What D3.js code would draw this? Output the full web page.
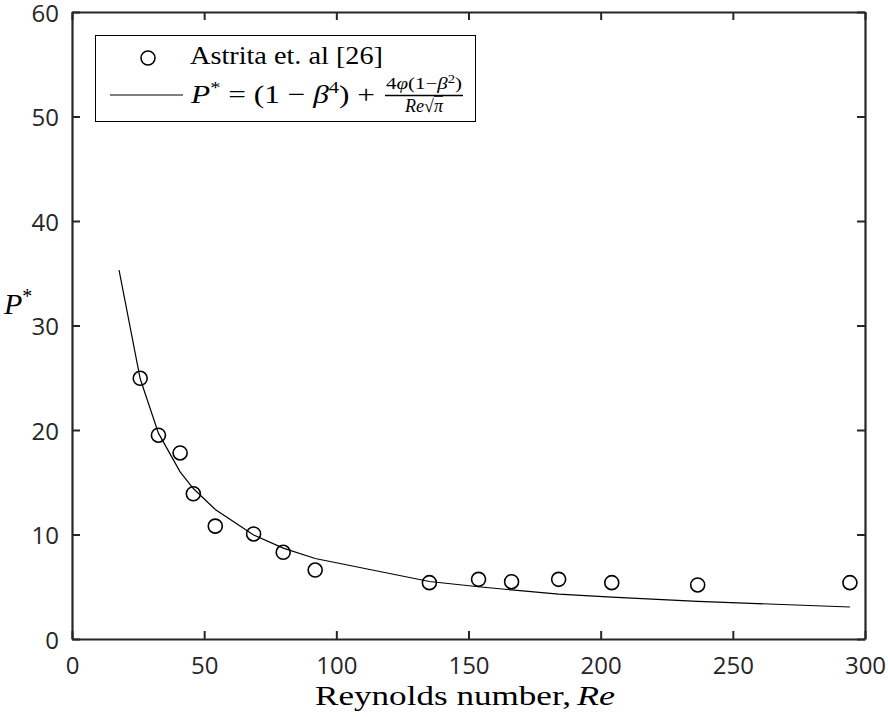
<!DOCTYPE html>
<html>
<head>
<meta charset="utf-8">
<script src="https://cdn.jsdelivr.net/npm/d3@7"></script>
<style>
  html, body { margin: 0; padding: 0; background: #fff; }
  svg { display: block; }
</style>
</head>
<body>
<svg id="chart" width="888" height="717"></svg>
<script>
// Experimental points (Astrita et al.)
const expRe = [25.8, 32.7, 40.9, 45.9, 54.2, 68.7, 79.9, 92.0, 135.2, 153.8, 166.3, 184.1, 204.2, 236.7, 294.3];
const expP  = [24.95, 19.5, 17.8, 13.9, 10.8, 10.05, 8.3, 6.6, 5.39, 5.71, 5.48, 5.71, 5.39, 5.17, 5.39];

// Model curve P* vs Re
const modelRe = [17.8, 25.8, 32.7, 40.9, 45.9, 54.2, 68.7, 79.9, 92.0, 135.2, 153.8, 166.3, 184.1, 204.2, 236.7, 294.3];
const modelP  = [35.3, 24.9, 19.7, 16.0, 14.4, 12.4, 9.95, 8.7, 7.7, 5.5, 5.0, 4.7, 4.3, 4.0, 3.6, 3.06];

// Axis ticks
const xTicks = [0, 50, 100, 150, 200, 250, 300];
const yTicks = [0, 10, 20, 30, 40, 50, 60];

const svg = d3.select("#chart");
const ink = "#262626";
const plotL = 72, plotR = 865, plotT = 12, plotB = 639;

const x = d3.scaleLinear().domain([0, 300]).range([plotL, plotR]);
const y = d3.scaleLinear().domain([0, 60]).range([plotB, plotT]);

const tickFont = "'Open Sans', sans-serif";
const serif = "'Liberation Serif', 'Times New Roman', serif";

// axes (ticks inward on all four sides)
const axB = svg.append("g").attr("transform", `translate(0,${plotB})`)
  .call(d3.axisBottom(x).tickValues(xTicks).tickSizeInner(-8).tickSizeOuter(0).tickPadding(18));
const axT = svg.append("g").attr("transform", `translate(0,${plotT})`)
  .call(d3.axisTop(x).tickValues(xTicks).tickSizeInner(-8).tickSizeOuter(0).tickFormat(""));
const axL = svg.append("g").attr("transform", `translate(${plotL},0)`)
  .call(d3.axisLeft(y).tickValues(yTicks).tickSizeInner(-8).tickSizeOuter(0).tickPadding(13));
const axR = svg.append("g").attr("transform", `translate(${plotR},0)`)
  .call(d3.axisRight(y).tickValues(yTicks).tickSizeInner(-8).tickSizeOuter(0).tickFormat(""));

[axB, axT, axL, axR].forEach(g => {
  g.select(".domain").attr("stroke", ink).attr("stroke-width", 2.2);
  g.selectAll(".tick line").attr("stroke", ink).attr("stroke-width", 2);
  g.selectAll(".tick text").attr("fill", ink)
    .style("font-family", tickFont).style("font-size", "24px");
});
axL.selectAll(".tick text").attr("dy", "0.38em");
axB.selectAll(".tick text").attr("dy", "0.72em");

// model curve
const line = d3.line().x((d, i) => x(modelRe[i])).y(d => y(d));
svg.append("path").datum(modelP)
  .attr("d", line)
  .attr("fill", "none").attr("stroke", "#000").attr("stroke-width", 1.2);

// experimental markers
svg.append("g").selectAll("circle").data(expP).join("circle")
  .attr("cx", (d, i) => x(expRe[i]))
  .attr("cy", d => y(d))
  .attr("r", 7)
  .attr("fill", "none").attr("stroke", "#000").attr("stroke-width", 1.6);

// axis labels
svg.append("text").attr("x", 315).attr("y", 705)
  .attr("fill", "#000").style("font-family", serif).style("font-size", "28px")
  .attr("textLength", 256).attr("lengthAdjust", "spacingAndGlyphs")
  .text("Reynolds number,");
svg.append("text").attr("x", 577).attr("y", 705)
  .attr("fill", "#000").style("font-family", serif).style("font-size", "28px")
  .attr("font-style", "italic")
  .attr("textLength", 38).attr("lengthAdjust", "spacingAndGlyphs")
  .text("Re");

const yl = svg.append("text").attr("x", 4).attr("y", 314)
  .attr("fill", "#000").style("font-family", serif).style("font-size", "30px");
yl.append("tspan").attr("font-style", "italic").text("P");
yl.append("tspan").attr("dy", -11).style("font-size", "20px").text("*");

// legend
const lg = svg.append("g");
lg.append("rect").attr("x", 95.5).attr("y", 35.5).attr("width", 380).attr("height", 86)
  .attr("fill", "#fff").attr("stroke", "#000").attr("stroke-width", 1);
lg.append("circle").attr("cx", 148).attr("cy", 58).attr("r", 7)
  .attr("fill", "none").attr("stroke", "#000").attr("stroke-width", 1.6);
lg.append("line").attr("x1", 110).attr("x2", 183).attr("y1", 95).attr("y2", 95)
  .attr("stroke", "#000").attr("stroke-width", 1.2);

lg.append("text").attr("x", 190).attr("y", 64)
  .attr("fill", "#000").style("font-family", serif).style("font-size", "25px")
  .attr("textLength", 193).attr("lengthAdjust", "spacingAndGlyphs")
  .text("Astrita et. al [26]");

const eq = lg.append("text").attr("x", 191).attr("y", 103)
  .attr("fill", "#000").style("font-family", serif).style("font-size", "26px")
  .attr("textLength", 184).attr("lengthAdjust", "spacingAndGlyphs");
eq.append("tspan").attr("font-style", "italic").text("P");
eq.append("tspan").attr("dy", -10).style("font-size", "17px").text("*");
eq.append("tspan").attr("dy", 10).text(" = (1 \u2212 ");
eq.append("tspan").attr("font-style", "italic").text("\u03B2");
eq.append("tspan").attr("dy", -10).style("font-size", "17px").text("4");
eq.append("tspan").attr("dy", 10).text(") +");

// fraction term
const fracL = 385, fracR = 463;
lg.append("text").attr("x", fracL + 1).attr("y", 89)
  .attr("fill", "#000").style("font-family", serif).style("font-size", "17px")
  .attr("textLength", fracR - fracL - 2).attr("lengthAdjust", "spacingAndGlyphs")
  .call(t => {
    t.append("tspan").text("4");
    t.append("tspan").attr("font-style", "italic").text("\u03C6");
    t.append("tspan").text("(1\u2212");
    t.append("tspan").attr("font-style", "italic").text("\u03B2");
    t.append("tspan").attr("dy", -6).style("font-size", "12px").text("2");
    t.append("tspan").attr("dy", 6).text(")");
  });
lg.append("line").attr("x1", fracL).attr("x2", fracR)
  .attr("y1", 95.5).attr("y2", 95.5).attr("stroke", "#000").attr("stroke-width", 1.6);
const den = lg.append("text").attr("x", (fracL + fracR) / 2).attr("y", 112)
  .attr("text-anchor", "middle")
  .attr("fill", "#000").style("font-family", serif).style("font-size", "18px");
den.append("tspan").attr("font-style", "italic").text("Re");
den.append("tspan").text("\u221A");
den.append("tspan").attr("font-style", "italic").style("text-decoration", "overline").text("\u03C0");
</script>
</body>
</html>
